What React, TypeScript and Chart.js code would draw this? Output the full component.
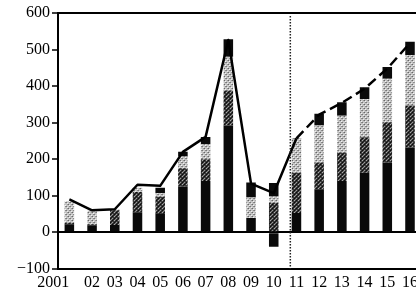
import React, { useEffect, useRef } from "react";
import { Chart, registerables } from "chart.js";

Chart.register(...registerables);

const categories = ["2001", "02", "03", "04", "05", "06", "07", "08", "09", "10", "11", "12", "13", "14", "15", "16"];
const blackBase = [22, 19, 20, 55, 50, 125, 140, 292, 39, -40, 53, 118, 140, 163, 191, 232];
const darkGray = [3, 3, 40, 55, 47, 50, 60, 96, 0, 80, 110, 73, 78, 97, 110, 115];
const lightGray = [60, 37, 3, 12, 10, 32, 41, 92, 56, 18, 95, 101, 101, 105, 119, 138];
const blackCap = [0, 0, 0, 0, 15, 13, 20, 48, 41, 37, 0, 32, 37, 32, 32, 36];
const totalLine = [90, 60, 63, 130, 127, 220, 261, 526, 133, 107, 257, 322, 354, 393, 448, 518];
const yTicks = [-100, 0, 100, 200, 300, 400, 500, 600];
const forecastStart = 10; // index of 2011
const dividerAt = 9.73; // category position of dotted divider

function makePattern(base: string, dots: [number, number, string][]) {
  const c = document.createElement("canvas");
  c.width = 4;
  c.height = 4;
  const g = c.getContext("2d")!;
  g.fillStyle = base;
  g.fillRect(0, 0, 4, 4);
  for (const [x, y, col] of dots) {
    g.fillStyle = col;
    g.fillRect(x, y, 1, 1);
  }
  const ctx = document.createElement("canvas").getContext("2d")!;
  return ctx.createPattern(c, "repeat")!;
}

export default function App() {
  const ref = useRef<HTMLCanvasElement>(null);
  useEffect(() => {
    document.body.style.margin = "0";
    document.body.style.overflow = "hidden";
    const darkPat = makePattern("#3c3c3c", [
      [0, 0, "#0a0a0a"], [2, 2, "#0a0a0a"], [1, 3, "#1a1a1a"], [3, 1, "#1a1a1a"],
      [2, 0, "#aaa"], [0, 2, "#999"], [3, 3, "#888"],
    ]);
    const lightPat = makePattern("#c4c4c4", [
      [0, 0, "#666"], [2, 2, "#777"], [1, 1, "#f4f4f4"], [3, 3, "#eee"], [3, 0, "#999"], [1, 2, "#8a8a8a"],
    ]);
    const divider = {
      id: "divider",
      afterDatasetsDraw(chart: any) {
        const { ctx, chartArea, scales } = chart;
        const x = scales.x.getPixelForValue(dividerAt);
        ctx.save();
        ctx.strokeStyle = "#222";
        ctx.lineWidth = 1.5;
        ctx.setLineDash([1.5, 1.5]);
        ctx.beginPath();
        ctx.moveTo(x, chartArea.top + 3);
        ctx.lineTo(x, chartArea.bottom);
        ctx.stroke();
        ctx.restore();
      },
    };
    const barCommon = { stack: "bars", order: 1, barPercentage: 0.42, categoryPercentage: 1, borderWidth: 0 };
    const chart = new Chart(ref.current!, {
      type: "bar",
      data: {
        labels: categories,
        datasets: [
          { ...barCommon, label: "base", data: blackBase, backgroundColor: "#0a0a0a" },
          { ...barCommon, label: "dark", data: darkGray, backgroundColor: darkPat },
          { ...barCommon, label: "light", data: lightGray, backgroundColor: lightPat },
          { ...barCommon, label: "cap", data: blackCap, backgroundColor: "#0a0a0a" },
          {
            type: "line",
            label: "total",
            stack: "line",
            order: 0,
            data: totalLine,
            borderColor: "#000",
            borderWidth: 2.5,
            borderJoinStyle: "round",
            pointRadius: 0,
            tension: 0,
            fill: false,
            segment: {
              borderDash: (c: any) => (c.p0DataIndex >= forecastStart ? [10, 5] : undefined),
            },
          } as any,
        ],
      },
      options: {
        animation: false,
        responsive: false,
        events: [],
        layout: { padding: { top: 13, left: 0, right: 0, bottom: 0 } },
        plugins: { legend: { display: false }, tooltip: { enabled: false } },
        scales: {
          x: {
            stacked: true,
            grid: { display: false, drawTicks: false, tickLength: 0 },
            border: { display: true, color: "#000", width: 2 },
            ticks: {
              autoSkip: false,
              maxRotation: 0,
              color: "#000",
              padding: 4,
              font: { family: "'Liberation Serif', 'Times New Roman', serif", size: 16 },
              callback: (v: any, i: number) => (i === 0 ? categories[i] + "\u2002\u2002\u2002\u2002" : categories[i]),
            },
          },
          y: {
            stacked: true,
            min: yTicks[0],
            max: yTicks[yTicks.length - 1],
            afterBuildTicks: (s: any) => {
              s.ticks = yTicks.map((v) => ({ value: v }));
            },
            afterFit: (s: any) => {
              s.width = 58;
            },
            grid: {
              color: (c: any) => (c.tick && (c.tick.value === 0 || c.tick.value === 600) ? "#000" : "rgba(0,0,0,0)"),
              lineWidth: 2,
              tickLength: 6,
              tickColor: "#000",
              tickWidth: 1.5,
            },
            border: { display: true, color: "#000", width: 2 },
            ticks: {
              color: "#000",
              padding: 2,
              font: { family: "'Liberation Serif', 'Times New Roman', serif", size: 16 },
              callback: (v: any) => (v < 0 ? "\u2212" + Math.abs(v) : String(v)),
            },
          },
        },
      },
      plugins: [divider],
    });
    return () => chart.destroy();
  }, []);
  return (
    <div style={{ width: 416, height: 293, overflow: "hidden", background: "#fff" }}>
      <canvas ref={ref} width={422} height={296} style={{ display: "block", width: 422, height: 296 }} />
    </div>
  );
}
